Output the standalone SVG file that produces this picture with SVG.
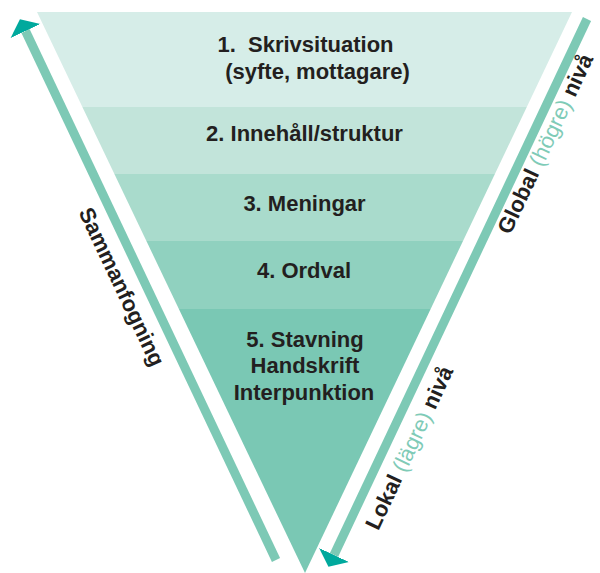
<svg xmlns="http://www.w3.org/2000/svg" width="600" height="573" viewBox="0 0 600 573">
  <style>
    text { font-family: "Liberation Sans", Arial, Helvetica, sans-serif; font-size: 22px; font-weight: bold; fill: #231f20; }
    .c { text-anchor: middle; }
    .lt { fill: #7fcbb7; font-weight: normal; }
    .bar { stroke: #7dc9b5; stroke-width: 9; fill: none; }
  </style>
  <defs>
    <marker id="ah" markerUnits="userSpaceOnUse" viewBox="0 -17 14 34" markerWidth="14" markerHeight="34" refX="0" refY="0" orient="auto">
      <path d="M0,-16.5 L13,0 L0,16.5 Z" fill="#00a99d"/>
    </marker>
    <clipPath id="tri">
      <polygon points="37,12 572,12 305,573"/>
    </clipPath>
  </defs>
  <rect width="600" height="573" fill="#ffffff"/>

  <g id="funnel" clip-path="url(#tri)">
    <g id="level1"><rect x="0" y="12" width="600" height="95" fill="#d6ede8"/></g>
    <g id="level2"><rect x="0" y="107" width="600" height="67" fill="#c2e4da"/></g>
    <g id="level3"><rect x="0" y="174" width="600" height="67" fill="#a9dbcc"/></g>
    <g id="level4"><rect x="0" y="241" width="600" height="68" fill="#90d1bf"/></g>
    <g id="level5"><rect x="0" y="309" width="600" height="264" fill="#7ac8b4"/></g>
  </g>

  <g id="labels">
    <text class="c" x="305.5" y="52" xml:space="preserve">1.  Skrivsituation</text>
    <text class="c" x="317.5" y="79">(syfte, mottagare)</text>
    <text class="c" x="304.5" y="141">2. Innehåll/struktur</text>
    <text class="c" x="304.5" y="211">3. Meningar</text>
    <text class="c" x="304" y="278">4. Ordval</text>
    <text class="c" x="305" y="347">5. Stavning</text>
    <text class="c" x="305" y="373">Handskrift</text>
    <text class="c" x="304" y="400">Interpunktion</text>
  </g>

  <g id="connectors">
    <line id="arrow-up" class="bar" x1="276" y1="560" x2="25.5" y2="31" marker-end="url(#ah)"/>
    <line id="arrow-down" class="bar" x1="587" y1="19" x2="334" y2="555" marker-end="url(#ah)"/>
  </g>

  <g id="side-labels">
    <text class="c" transform="translate(115,290) rotate(64.8)">Sammanfogning</text>
    <text class="c" transform="translate(552,147) rotate(-64.8)">Global <tspan class="lt">(högre)</tspan> nivå</text>
    <text class="c" transform="translate(416,451) rotate(-64.8)">Lokal <tspan class="lt">(lägre)</tspan> nivå</text>
  </g>
</svg>
